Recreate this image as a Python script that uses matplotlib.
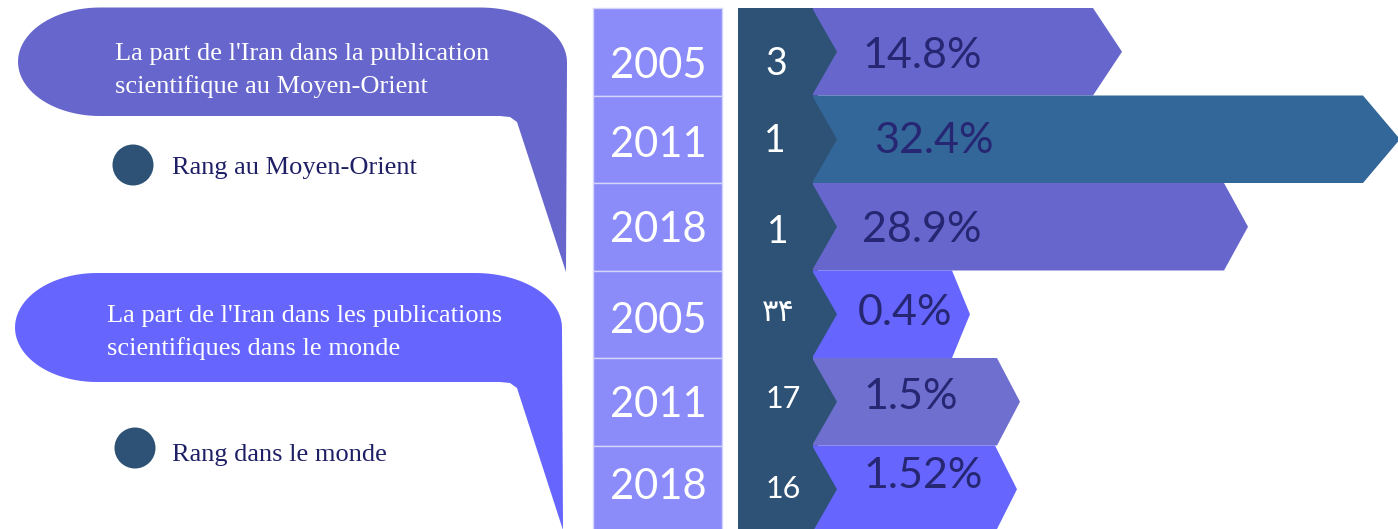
import numpy as np
import matplotlib
matplotlib.use("Agg")
import matplotlib.pyplot as plt
from matplotlib.patches import Polygon, Rectangle, Circle

# data
years = ["2005", "2011", "2018", "2005", "2011", "2018"]
ranks = ["3", "1", "1", "۳۴", "17", "16"]
shares = [14.8, 32.4, 28.9, 0.4, 1.5, 1.52]
group_titles = [
    ["La part de l'Iran dans la publication", "scientifique au Moyen-Orient"],
    ["La part de l'Iran dans les publications", "scientifiques dans le monde"],
]
legend_labels = ["Rang au Moyen-Orient", "Rang dans le monde"]

# layout (pixels)
row_edges = [8, 95.5, 183, 270.5, 358, 445.5, 533]
bar_end = [1093, 1363, 1224, 952, 997, 995]
bar_tip = [1122, 1400, 1248, 970, 1020, 1017]
bar_colors = ["#6666CC", "#336699", "#6666CC", "#6666FF", "#6F6FD0", "#6666FF"]
year_base = [78, 157, 242, 333, 417, 499]
rank_base = [75, 152, 243, 321, 408, 498]
rank_size = [27, 27, 27, 22, 22, 22]
rank_x = [776, 775, 778, 778, 783, 783]
pct_x = [862, 874, 862, 858, 863, 863]
pct_base = [68, 153, 242, 325, 409, 488]

dark = "#2D5275"
navy = "#262673"
nums = ["Lato", "DejaVu Sans"]
serif = "Liberation Serif"

fig = plt.figure(figsize=(13.98, 5.29), dpi=100)
ax = fig.add_axes([0, 0, 1, 1])
ax.set_xlim(0, 1398)
ax.set_ylim(529, 0)
ax.axis("off")


def callout(x0, x1, y0, y1, jx, tip, color):
    ym = (y0 + y1) / 2
    ry = (y1 - y0) / 2
    rl, rr, rry = 82, 87, 55
    pts = [(x0 + rl, y0)]
    a = np.linspace(-np.pi / 2, 0, 30)
    pts += list(zip(x1 - rr + rr * np.cos(a), y0 + rry + rry * np.sin(a)))
    pts += [tip, (jx + 17, y1 + 6), (jx + 10, y1 + 1), (jx, y1)]
    a = np.linspace(np.pi / 2, 3 * np.pi / 2, 50)
    pts += list(zip(x0 + rl + rl * np.cos(a), ym + ry * np.sin(a)))
    ax.add_patch(Polygon(pts, closed=True, facecolor=color, edgecolor="none"))


callout(18, 567, 7.5, 116, 500, (566, 272), "#6666CC")
callout(15, 562, 273, 382, 500, (563, 530), "#6666FF")

for k, lines in enumerate(group_titles):
    x = 115 if k == 0 else 107
    b = 60 if k == 0 else 322
    for j, line in enumerate(lines):
        ax.text(x, b + 33 * j, line, color="white", fontsize=19,
                family=serif, va="baseline", ha="left")

for (cx, cy), lab, b in zip([(133, 165), (135, 448)], legend_labels, [174, 461]):
    ax.add_patch(Circle((cx, cy), 20.5, facecolor=dark, edgecolor="none"))
    ax.text(172, b, lab, color="#1F1F66", fontsize=19, family=serif,
            va="baseline", ha="left")

# dark rank column
ax.add_patch(Rectangle((738, 8), 80, 530, facecolor=dark, edgecolor="none"))

for i in range(6):
    top, bot = row_edges[i], row_edges[i + 1]
    mid = (top + bot) / 2
    ax.add_patch(Rectangle((593, top), 129, bot - top, facecolor="#8B8BF9",
                           edgecolor="#D4D4FC", linewidth=1))
    ax.text(658, year_base[i], years[i], color="white", fontsize=30,
            family=nums, ha="center", va="baseline")
    pts = [(813, top), (bar_end[i], top), (bar_tip[i], mid), (bar_end[i], bot),
           (813, bot)]
    ax.add_patch(Polygon(pts, closed=True, facecolor=bar_colors[i],
                         edgecolor="none"))
    ax.add_patch(Polygon([(812, top), (837, mid), (812, bot)], closed=True,
                         facecolor=dark, edgecolor="none"))
    ax.text(rank_x[i], rank_base[i], ranks[i], color="white",
            fontsize=rank_size[i], family=nums, ha="center", va="baseline")
    ax.text(pct_x[i], pct_base[i], f"{shares[i]}%", color=navy, fontsize=31,
            family=nums, ha="left", va="baseline")

fig.savefig("out.png", dpi=100)
